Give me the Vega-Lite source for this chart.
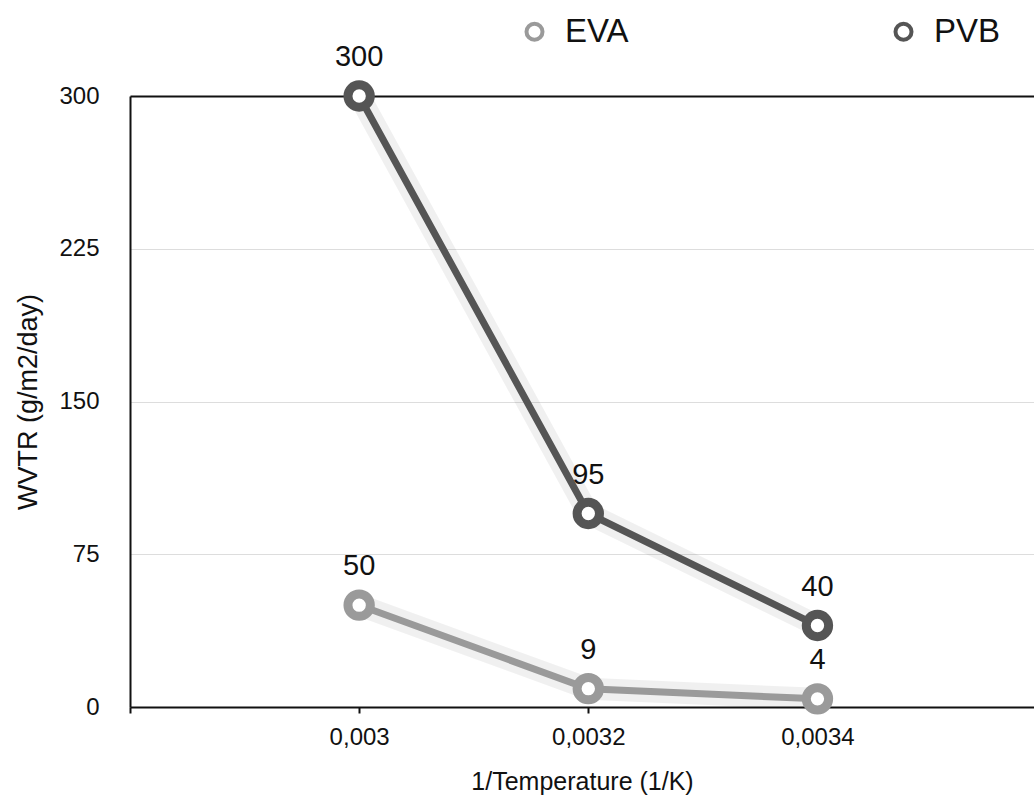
{
  "$schema": "https://vega.github.io/schema/vega-lite/v6.json",
  "width": 904,
  "height": 611,
  "autosize": {"type": "none"},
  "padding": {"left": 130, "top": 96, "right": 0, "bottom": 91},
  "background": "white",
  "config": {
    "locale": {"number": {"decimal": ",", "thousands": ".", "grouping": [3], "currency": ["", " €"]}},
    "font": "Liberation Sans",
    "view": {"stroke": null}
  },
  "data": {
    "values": [
      {"series": "EVA", "x": 0.003, "y": 50},
      {"series": "EVA", "x": 0.0032, "y": 9},
      {"series": "EVA", "x": 0.0034, "y": 4},
      {"series": "PVB", "x": 0.003, "y": 300},
      {"series": "PVB", "x": 0.0032, "y": 95},
      {"series": "PVB", "x": 0.0034, "y": 40}
    ]
  },
  "encoding": {
    "x": {
      "field": "x", "type": "quantitative",
      "scale": {"domain": [0.0028, 0.003589], "nice": false, "zero": false},
      "axis": {
        "title": "1/Temperature (1/K)",
        "values": [0.0028, 0.003, 0.0032, 0.0034],
        "format": "~g",
        "labelExpr": "datum.value < 0.0029 ? '' : datum.label",
        "grid": false,
        "domainColor": "#111", "domainWidth": 2,
        "tickColor": "#111", "tickWidth": 2, "tickSize": 6,
        "labelFontSize": 24, "labelColor": "#111", "labelPadding": 12,
        "titleFontSize": 25, "titleFontWeight": "normal", "titleColor": "#111", "titlePadding": 20
      }
    },
    "y": {
      "field": "y", "type": "quantitative",
      "scale": {"domain": [0, 300], "nice": false},
      "axis": {
        "title": "WVTR (g/m2/day)",
        "values": [0, 75, 150, 225, 300],
        "ticks": false,
        "gridColor": {"condition": {"test": "datum.value === 300", "value": "#111"}, "value": "#dddddd"},
        "gridWidth": {"condition": {"test": "datum.value === 300", "value": 2}, "value": 1},
        "domainColor": "#111", "domainWidth": 2,
        "labelFontSize": 24, "labelColor": "#111", "labelPadding": 31,
        "titleFontSize": 27, "titleFontWeight": "normal", "titleColor": "#111", "titlePadding": 16
      }
    },
    "color": {
      "field": "series", "type": "nominal",
      "scale": {"domain": ["EVA", "PVB"], "range": ["#9a9a9a", "#555555"]},
      "legend": {
        "title": null,
        "orient": "none",
        "legendX": 388,
        "legendY": -81,
        "direction": "horizontal",
        "columns": 2,
        "columnPadding": 258,
        "symbolType": "circle",
        "symbolSize": 256,
        "symbolStrokeWidth": 4,
        "symbolFillColor": "white",
        "labelFontSize": 33,
        "labelColor": "#111",
        "labelOffset": 14
      }
    }
  },
  "layer": [
    {"mark": {"type": "line", "strokeWidth": 22, "opacity": 0.06, "color": "#000", "strokeCap": "round", "strokeJoin": "round"}, "encoding": {"detail": {"field": "series", "type": "nominal"}, "color": {"value": "#000"}}},
    {"mark": {"type": "line", "strokeWidth": 7}},
    {"mark": {"type": "point", "filled": false, "fill": "white", "fillOpacity": 1, "opacity": 1, "size": 500, "strokeWidth": 9, "shape": "circle"}},
    {
      "mark": {"type": "text", "dy": -39, "fontSize": 29, "color": "#111", "baseline": "middle"},
      "encoding": {"text": {"field": "y", "type": "quantitative"}, "color": {"value": "#111"}}
    }
  ]
}
